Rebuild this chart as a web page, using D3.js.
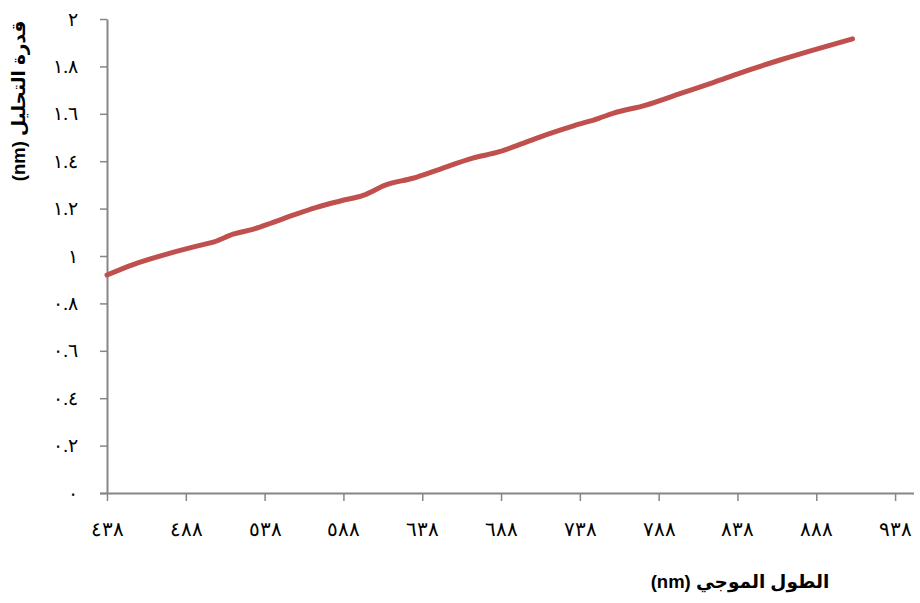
<!DOCTYPE html>
<html>
<head>
<meta charset="utf-8">
<script src="https://cdn.jsdelivr.net/npm/d3@7"></script>
<style>
  html, body { margin: 0; padding: 0; background: #fff; }
  svg { display: block; }
</style>
</head>
<body>
<svg id="chart" width="920" height="603"></svg>
<script>
// Wavelength (nm) and resolving power (nm)
const wavelengths = [438, 455, 476, 497, 506, 518, 531, 543, 556, 571, 586, 601, 615, 632, 649, 670, 687, 700, 713, 734, 750, 759, 780, 802, 823, 840, 865, 886, 911];
const resolution  = [0.920, 0.965, 1.008, 1.045, 1.060, 1.092, 1.113, 1.141, 1.172, 1.205, 1.232, 1.257, 1.300, 1.328, 1.366, 1.413, 1.440, 1.471, 1.503, 1.549, 1.581, 1.602, 1.637, 1.686, 1.733, 1.773, 1.827, 1.869, 1.916];

const xTicks = [438, 488, 538, 588, 638, 688, 738, 788, 838, 888, 938];
const xTickLabels = ["٤٣٨", "٤٨٨", "٥٣٨", "٥٨٨", "٦٣٨", "٦٨٨", "٧٣٨", "٧٨٨", "٨٣٨", "٨٨٨", "٩٣٨"];
const yTicks = [0, 0.2, 0.4, 0.6, 0.8, 1, 1.2, 1.4, 1.6, 1.8, 2];
const yTickLabels = ["٠", "٠.٢", "٠.٤", "٠.٦", "٠.٨", "١", "١.٢", "١.٤", "١.٦", "١.٨", "٢"];

const xTitle = "الطول الموجي (nm)";
const yTitle = "قدرة التحليل (nm)";

const svg = d3.select("#chart");
const axisColor = "#868686";
const labelFont = "'Times New Roman', 'Liberation Serif', 'DejaVu Serif', serif";
const titleFont = "Arial, 'Liberation Sans', 'DejaVu Sans', sans-serif";

const x = d3.scaleLinear().domain([438, 950]).range([107, 914]);
const y = d3.scaleLinear().domain([0, 2]).range([493, 19]);

// Y axis
const yAxis = svg.append("g")
  .attr("transform", `translate(${x(438)},0)`)
  .call(d3.axisLeft(y)
    .tickValues(yTicks)
    .tickFormat((d, i) => yTickLabels[i])
    .tickSize(7)
    .tickSizeOuter(0)
    .tickPadding(22));
yAxis.select(".domain").attr("stroke", axisColor).attr("stroke-width", 2);
yAxis.selectAll(".tick line").attr("stroke", axisColor).attr("stroke-width", 1.5);
yAxis.selectAll(".tick text")
  .attr("fill", "#000")
  .style("font-family", labelFont)
  .style("font-size", "19px");

// X axis
const xAxis = svg.append("g")
  .attr("transform", `translate(0,${y(0)})`)
  .call(d3.axisBottom(x)
    .tickValues(xTicks)
    .tickFormat((d, i) => xTickLabels[i])
    .tickSize(8)
    .tickSizeOuter(0)
    .tickPadding(21));
xAxis.select(".domain").attr("stroke", axisColor).attr("stroke-width", 2)
  .attr("d", `M${x(438) - 7},0.5H${x(950)}`);
xAxis.selectAll(".tick line").attr("stroke", axisColor).attr("stroke-width", 1.5);
xAxis.selectAll(".tick text")
  .attr("fill", "#000")
  .style("font-family", labelFont)
  .style("font-size", "20px");

// Data line (smoothed)
const line = d3.line()
  .x((d, i) => x(wavelengths[i]))
  .y(d => y(d))
  .curve(d3.curveMonotoneX);

svg.append("path")
  .datum(resolution)
  .attr("d", line)
  .attr("fill", "none")
  .attr("stroke", "#C0504D")
  .attr("stroke-width", 5)
  .attr("stroke-linecap", "round")
  .attr("stroke-linejoin", "round");

// Axis titles
svg.append("text")
  .attr("x", 740)
  .attr("y", 588)
  .attr("direction", "rtl")
  .attr("text-anchor", "middle")
  .style("font-family", titleFont)
  .style("font-weight", "bold")
  .style("font-size", "18.5px")
  .text(xTitle);

svg.append("text")
  .attr("transform", "translate(25,101) rotate(-90)")
  .attr("direction", "rtl")
  .attr("text-anchor", "middle")
  .style("font-family", titleFont)
  .style("font-weight", "bold")
  .style("font-size", "18.5px")
  .text(yTitle);
</script>
</body>
</html>
